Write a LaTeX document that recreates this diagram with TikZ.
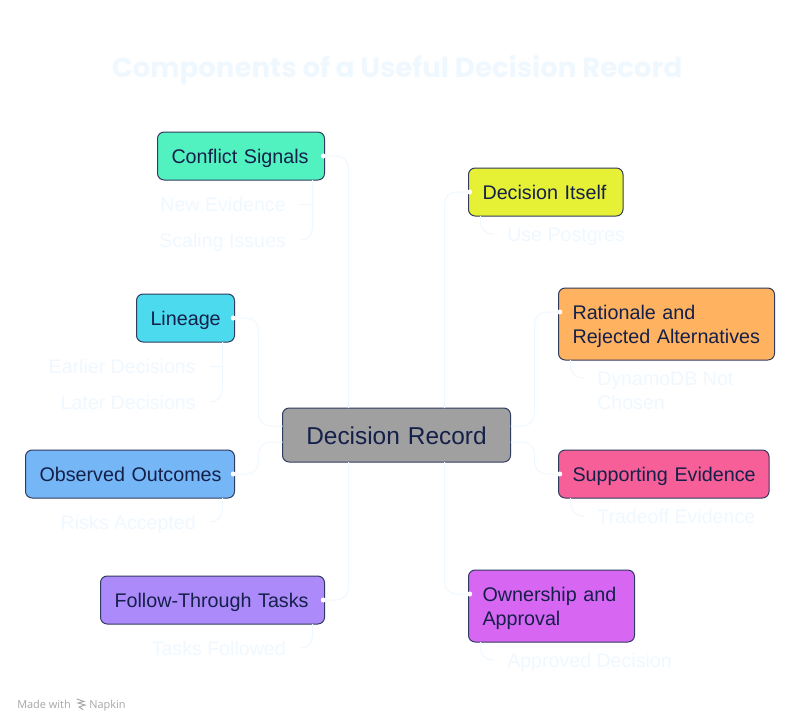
\documentclass[tikz,border=0pt]{standalone}
\usepackage{fontspec}
\setmainfont{Liberation Sans}
\newfontfamily\titlefont{Poppins}
\newfontfamily\footfont{Open Sans}
\definecolor{ink}{HTML}{14204A}
\definecolor{pale}{HTML}{F0F8FF}
\definecolor{cgray}{HTML}{A0A0A0}
\definecolor{cgreen}{HTML}{52F2C0}
\definecolor{ccyan}{HTML}{4CDBEE}
\definecolor{cblue}{HTML}{74B6F6}
\definecolor{cpurple}{HTML}{AC8AFA}
\definecolor{cyellow}{HTML}{E6F136}
\definecolor{corange}{HTML}{FFB25F}
\definecolor{cpink}{HTML}{F65F97}
\definecolor{cmagenta}{HTML}{D766F2}
\definecolor{cfoot}{HTML}{A6A6A6}
\newcommand\bs[1]{\mbox{\rule[-3.75pt]{0pt}{18pt}#1}}
\newcommand\bsr[1]{\mbox{\rule[-4pt]{0pt}{21.5pt}#1}}
\tikzset{
  x=0.75pt,y=-0.75pt,
  box/.style={draw=ink!88,line width=0.75pt,outer sep=0pt,rounded corners=5pt,inner ysep=0pt,inner xsep=10.5pt,text=ink,font=\fontsize{14.8}{18}\selectfont,align=left,anchor=north west},
  leaf/.style={text=pale,font=\fontsize{14.7}{18}\selectfont,inner sep=0pt,align=left},
  link/.style={draw=pale,line width=0.75pt,rounded corners=9pt},
  tick/.style={draw=pale,line width=0.75pt},
  enddot/.style={fill=white},
}
\begin{document}
\begin{tikzpicture}
\useasboundingbox (0,0) rectangle (803,726);
\fill[white] (0,0) rectangle (803,726);
\node[text=pale,font=\titlefont\bfseries\fontsize{20.7}{26}\selectfont,inner sep=0pt] (title) at (397,70.5) {Components of a Useful Decision Record};

\node[box,fill=cgray,text width=150pt,inner xsep=10.5pt,minimum height=40.5pt,align=center,font=\fontsize{18.3}{22}\selectfont] (root) at (282.5,408) {\bsr{Decision Record}};

\node[box,fill=cgreen,text width=104.25pt,minimum height=36pt] (conf) at (157.5,132) {\bs{Conflict Signals}};
\node[box,fill=ccyan,text width=52.5pt,minimum height=36pt] (lin) at (136.5,294) {\bs{Lineage}};
\node[box,fill=cblue,text width=135.75pt,minimum height=36pt] (obs) at (25.5,450) {\bs{Observed Outcomes}};
\node[box,fill=cpurple,text width=147pt,minimum height=36pt] (fol) at (100.5,576) {\bs{Follow-Through Tasks}};
\node[box,fill=cyellow,text width=94.9pt,minimum height=36pt] (dec) at (468.5,168) {\bs{Decision Itself}};
\node[box,fill=corange,text width=141pt,minimum height=54pt] (rat) at (558.5,288) {\bs{Rationale and}\\\bs{Rejected Alternatives}};
\node[box,fill=cpink,text width=136.9pt,minimum height=36pt] (sup) at (558.5,450) {\bs{Supporting Evidence}};
\node[box,fill=cmagenta,text width=103.5pt,minimum height=54pt] (own) at (468.5,570) {\bs{Ownership and}\\\bs{Approval}};

\node[leaf,anchor=base east] (nev) at (286,211) {New Evidence};
\node[leaf,anchor=base east] (sca) at (286,247) {Scaling Issues};
\node[leaf,anchor=base east] (ear) at (196,373) {Earlier Decisions};
\node[leaf,anchor=base east] (lat) at (196,409) {Later Decisions};
\node[leaf,anchor=base east] (ris) at (196,529) {Risks Accepted};
\node[leaf,anchor=base east] (tas) at (286,655) {Tasks Followed};
\node[leaf,anchor=base west] (use) at (507,241) {Use Postgres};
\node[leaf,anchor=north west] (dyn) at (597,366) {\bs{DynamoDB Not}\\\bs{Chosen}};
\node[leaf,anchor=base west] (tra) at (597,523) {Tradeoff Evidence};
\node[leaf,anchor=base west] (app) at (507,667) {Approved Decision};

% main branches
\draw[link] ([xshift=-36pt]root.north) |- (conf.east);
\draw[link] ([xshift=-36pt]root.south) |- (fol.east);
\draw[link] ([xshift=36pt]root.north) |- (dec.west);
\draw[link] ([xshift=36pt]root.south) |- ([yshift=9pt]own.west);
\draw[link] ([yshift=6.75pt]root.west) -- ++(-24,0) |- (lin.east);
\draw[link] ([yshift=-5.25pt]root.west) -- ++(-24,0) |- (obs.east);
\draw[link] ([yshift=6.75pt]root.east) -- ++(24,0) |- ([yshift=9pt]rat.west);
\draw[link] ([yshift=-5.25pt]root.east) -- ++(24,0) |- (sup.west);
% end dots
\fill[enddot] ([xshift=-0.9pt]conf.east) circle (1.9pt);
\fill[enddot] ([xshift=-0.9pt]fol.east) circle (1.9pt);
\fill[enddot] ([xshift=-0.9pt]lin.east) circle (1.9pt);
\fill[enddot] ([xshift=-0.9pt]obs.east) circle (1.9pt);
\fill[enddot] ([xshift=0.9pt]dec.west) circle (1.9pt);
\fill[enddot] ([xshift=0.9pt,yshift=9pt]rat.west) circle (1.9pt);
\fill[enddot] ([xshift=0.9pt]sup.west) circle (1.9pt);
\fill[enddot] ([xshift=0.9pt,yshift=9pt]own.west) circle (1.9pt);
% leaf branches
\draw[tick] ([xshift=-9pt]conf.south east) |- ([xshift=10.5pt,yshift=5.25pt]nev.base east);
\draw[link] ([xshift=-9pt]conf.south east) |- ([xshift=10.5pt,yshift=5.25pt]sca.base east);
\draw[tick] ([xshift=-9pt]lin.south east) |- ([xshift=10.5pt,yshift=5.25pt]ear.base east);
\draw[link] ([xshift=-9pt]lin.south east) |- ([xshift=10.5pt,yshift=5.25pt]lat.base east);
\draw[link] ([xshift=-9pt]obs.south east) |- ([xshift=10.5pt,yshift=5.25pt]ris.base east);
\draw[link] ([xshift=-9pt]fol.south east) |- ([xshift=10.5pt,yshift=5.25pt]tas.base east);
\draw[link] ([xshift=9pt]dec.south west) |- ([xshift=-9.75pt,yshift=5.25pt]use.base west);
\draw[link] ([xshift=9pt]rat.south west) |- ([xshift=-9.75pt,yshift=-9pt]dyn.north west);
\draw[link] ([xshift=9pt]sup.south west) |- ([xshift=-9.75pt,yshift=5.25pt]tra.base west);
\draw[link] ([xshift=9pt]own.south west) |- ([xshift=-9.75pt,yshift=5.25pt]app.base west);

% footer
\node[text=cfoot,font=\footfont\fontsize{8.2}{10}\selectfont,inner sep=0pt,anchor=base west] (made) at (17,708) {Made with};
\node[text=cfoot,font=\footfont\fontsize{8.2}{10}\selectfont,inner sep=0pt,anchor=base west] (nap) at (89,708) {Napkin};
\draw[cfoot,line width=0.7pt,line cap=round] (77,699) -- (84,701.5) -- (78,703) -- (85,705) -- (79,707) -- (83,709.5);
\end{tikzpicture}
\end{document}
